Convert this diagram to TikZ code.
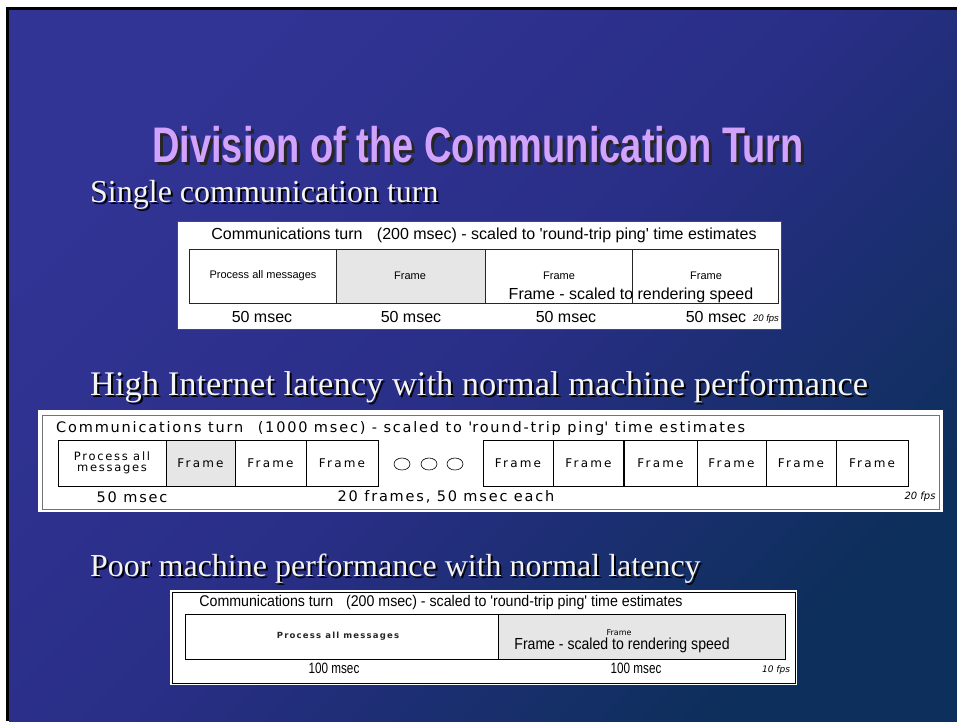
\documentclass[tikz,border=0pt]{standalone}
\usepackage{fontspec}
\setmainfont{Liberation Serif}
\newfontfamily\arialf{Liberation Sans}
\newfontfamily\widef[LetterSpace=12.5]{DejaVu Sans}
\newfontfamily\widecell[LetterSpace=18]{DejaVu Sans}
\newfontfamily\wideproc[LetterSpace=15]{DejaVu Sans}
\newfontfamily\widesmall[LetterSpace=14]{DejaVu Sans}
\newfontfamily\dvsans{DejaVu Sans}
\usetikzlibrary{shapes.geometric}
\definecolor{bgtl}{HTML}{323495}
\definecolor{bgmid}{HTML}{292E86}
\definecolor{bgbr}{HTML}{0D2F5B}
\definecolor{titlec}{HTML}{D2A2FF}
\definecolor{headc}{HTML}{F4F4F4}
\definecolor{cellgrey}{HTML}{E6E6E6}
\newcommand{\fsz}[1]{\fontsize{#1}{#1}\selectfont}
\newcommand{\narrowtext}[2]{\scalebox{#1}[1]{#2}}
\newcommand{\titletext}{\scalebox{0.76}[1]{Division of the Communication Turn}}
\newcommand{\shadowtext}[4]{\makebox[0pt][l]{\hspace*{#1}\raisebox{-#2}{\textcolor{#3}{#4}}}#4}
\begin{document}
\begin{tikzpicture}[x=1pt,y=-1pt,
  titlestyle/.style={font=\arialf\bfseries\fsz{50}, text=titlec, inner sep=0},
  headstyle/.style={font=\fsz{32}, text=headc, inner sep=0, anchor=base west},
  boxbg/.style={fill=white, draw=black!70, line width=0.7pt, inner sep=0, outer sep=0, anchor=north west},
  celloner/.style={draw=black!85, line width=0.7pt, inner sep=0, outer sep=0, anchor=north west, minimum height=54},
  celltwo/.style={draw=black, line width=0.9pt, inner sep=0, outer sep=0, anchor=north west, minimum height=46},
  cellthree/.style={draw=black, line width=0.8pt, inner sep=0, outer sep=0, anchor=north west, minimum height=45},
  ar16/.style={font=\arialf\fsz{16}, inner sep=0},
  ar11/.style={font=\arialf\fsz{11}, inner sep=0},
  wide14/.style={font=\widef\fsz{14.5}, inner sep=0},
  wide12/.style={font=\widecell\fsz{12}, inner sep=0},
  fpsar/.style={font=\arialf\itshape\fsz{9.5}, inner sep=0},
  fpsdv/.style={font=\dvsans\itshape\fsz{10}, inner sep=0},
  dots/.style={ellipse, draw=black, line width=0.6pt, minimum width=16, minimum height=12, inner sep=0}
]
\useasboundingbox (0,0) rectangle (957,721);
% slide background
\fill[white] (0,0) rectangle (957,721);
\shade[top color=bgtl, bottom color=bgbr, middle color=bgmid, shading angle=45] (9,10) rectangle (957,721);
\fill[black] (6,7) rectangle (957,10);
\fill[black] (6,7) rectangle (9,721);

% title
\node[titlestyle] (title) at (478,146) {\shadowtext{3pt}{3pt}{black!85}{\titletext}};

% headings
\node[headstyle] (h1) at (90,202) {\shadowtext{2pt}{2pt}{black}{Single communication turn}};
\node[headstyle, font=\fsz{34.5}] (h2) at (90,395) {\shadowtext{2pt}{2pt}{black}{High Internet latency with normal machine performance}};
\node[headstyle] (h3) at (90,576) {\shadowtext{2pt}{2pt}{black}{Poor machine performance with normal latency}};

% ---------- box 1 ----------
\node[boxbg, minimum width=604, minimum height=108] (b1) at (177,221) {};
\node[ar16] (b1h) at (484,235) {Communications turn\hspace{0.9em}(200 msec) - scaled to \textquotesingle round-trip ping\textquotesingle\ time estimates};
\node[celloner, minimum width=147] (b1c1) at (189,249) {};
\node[celloner, minimum width=149, fill=cellgrey] (b1c2) at (336,249) {};
\node[celloner, minimum width=147] (b1c3) at (485,249) {};
\node[celloner, minimum width=146] (b1c4) at (632,249) {};
\node[ar11] (b1t1) at (263,276) {Process all messages};
\node[ar11] (b1t2) at (410,276) {Frame};
\node[ar11] (b1t3) at (559,276) {Frame};
\node[ar11] (b1t4) at (706,276) {Frame};
\node[ar16] (b1big) at (631,295) {Frame - scaled to rendering speed};
\node[ar16] (b1m1) at (262,317) {50 msec};
\node[ar16] (b1m2) at (411,317) {50 msec};
\node[ar16] (b1m3) at (566,317) {50 msec};
\node[ar16] (b1m4) at (716,317) {50 msec};
\node[fpsar] (b1fps) at (766,319) {20 fps};

% ---------- box 2 ----------
\node[fill=white, inner sep=0, outer sep=0, anchor=north west, minimum width=905, minimum height=102] (b2) at (38,410) {};
\node[draw=black!55, line width=0.7pt, inner sep=0, outer sep=0, anchor=north west, minimum width=897, minimum height=94] (b2in) at (42,415) {};
\node[wide14, anchor=west] (b2h) at (56,428) {Communications turn\hspace{1em}(1000 msec) - scaled to \textquotesingle round-trip ping\textquotesingle\ time estimates};
\node[celltwo, minimum width=108] (b2c1) at (58,440) {};
\node[celltwo, minimum width=69, fill=cellgrey] (b2c2) at (166,440) {};
\node[celltwo, minimum width=71] (b2c3) at (235,440) {};
\node[celltwo, minimum width=72] (b2c4) at (306,440) {};
\node[celltwo, minimum width=70] (b2c5) at (483,440) {};
\node[celltwo, minimum width=71] (b2c6) at (553,440) {};
\node[celltwo, minimum width=73] (b2c7) at (624,440) {};
\node[celltwo, minimum width=69] (b2c8) at (697,440) {};
\node[celltwo, minimum width=70] (b2c9) at (766,440) {};
\node[celltwo, minimum width=72] (b2c10) at (836,440) {};
\draw[line width=1.8pt] (b2c7.north west) -- (b2c7.south west);
\node[inner sep=0, align=center, font=\wideproc\fontsize{11.5}{11.6}\selectfont] (b2t1) at (b2c1.center) {Process all\\messages};
\node[wide12] (b2t2) at (b2c2.center) {Frame};
\node[wide12] (b2t3) at (b2c3.center) {Frame};
\node[wide12] (b2t4) at (b2c4.center) {Frame};
\node[wide12] (b2t5) at (b2c5.center) {Frame};
\node[wide12] (b2t6) at (b2c6.center) {Frame};
\node[wide12] (b2t7) at (b2c7.center) {Frame};
\node[wide12] (b2t8) at (b2c8.center) {Frame};
\node[wide12] (b2t9) at (b2c9.center) {Frame};
\node[wide12] (b2t10) at (b2c10.center) {Frame};
\node[dots] (o1) at (402,464) {};
\node[dots] (o2) at (429,464) {};
\node[dots] (o3) at (455,464) {};
\node[wide14] (b2m1) at (132,497) {50 msec};
\node[wide14] (b2m2) at (446,497) {20 frames, 50 msec each};
\node[fpsdv] (b2fps) at (920,497) {20 fps};

% ---------- box 3 ----------
\node[fill=white, inner sep=0, outer sep=0, anchor=north west, minimum width=627, minimum height=95] (b3) at (170,590) {};
\node[draw=black, line width=0.6pt, inner sep=0, outer sep=0, anchor=north west, minimum width=623, minimum height=91] (b3in) at (172,592) {};
\node[font=\arialf\fsz{15.5}, inner sep=0] (b3h) at (441,602) {\narrowtext{0.915}{Communications turn\hspace{0.9em}(200 msec) - scaled to \textquotesingle round-trip ping\textquotesingle\ time estimates}};
\node[cellthree, minimum width=313] (b3c1) at (185,614) {};
\node[cellthree, minimum width=287, fill=cellgrey] (b3c2) at (498,614) {};
\node[font=\widesmall\bfseries\fsz{8.5}, text=black!85, inner sep=0] (b3t1) at (338,636) {Process all messages};
\node[font=\dvsans\fsz{8}, inner sep=0] (b3t2) at (619,633) {Frame};
\node[ar16] (b3big) at (622,645) {\narrowtext{0.88}{Frame - scaled to rendering speed}};
\node[font=\arialf\fsz{15}, inner sep=0] (b3m1) at (334,668) {\narrowtext{0.78}{100 msec}};
\node[font=\arialf\fsz{15}, inner sep=0] (b3m2) at (636,668) {\narrowtext{0.78}{100 msec}};
\node[fpsdv, font=\dvsans\itshape\fsz{9}] (b3fps) at (776,670) {10 fps};
\end{tikzpicture}
\end{document}
